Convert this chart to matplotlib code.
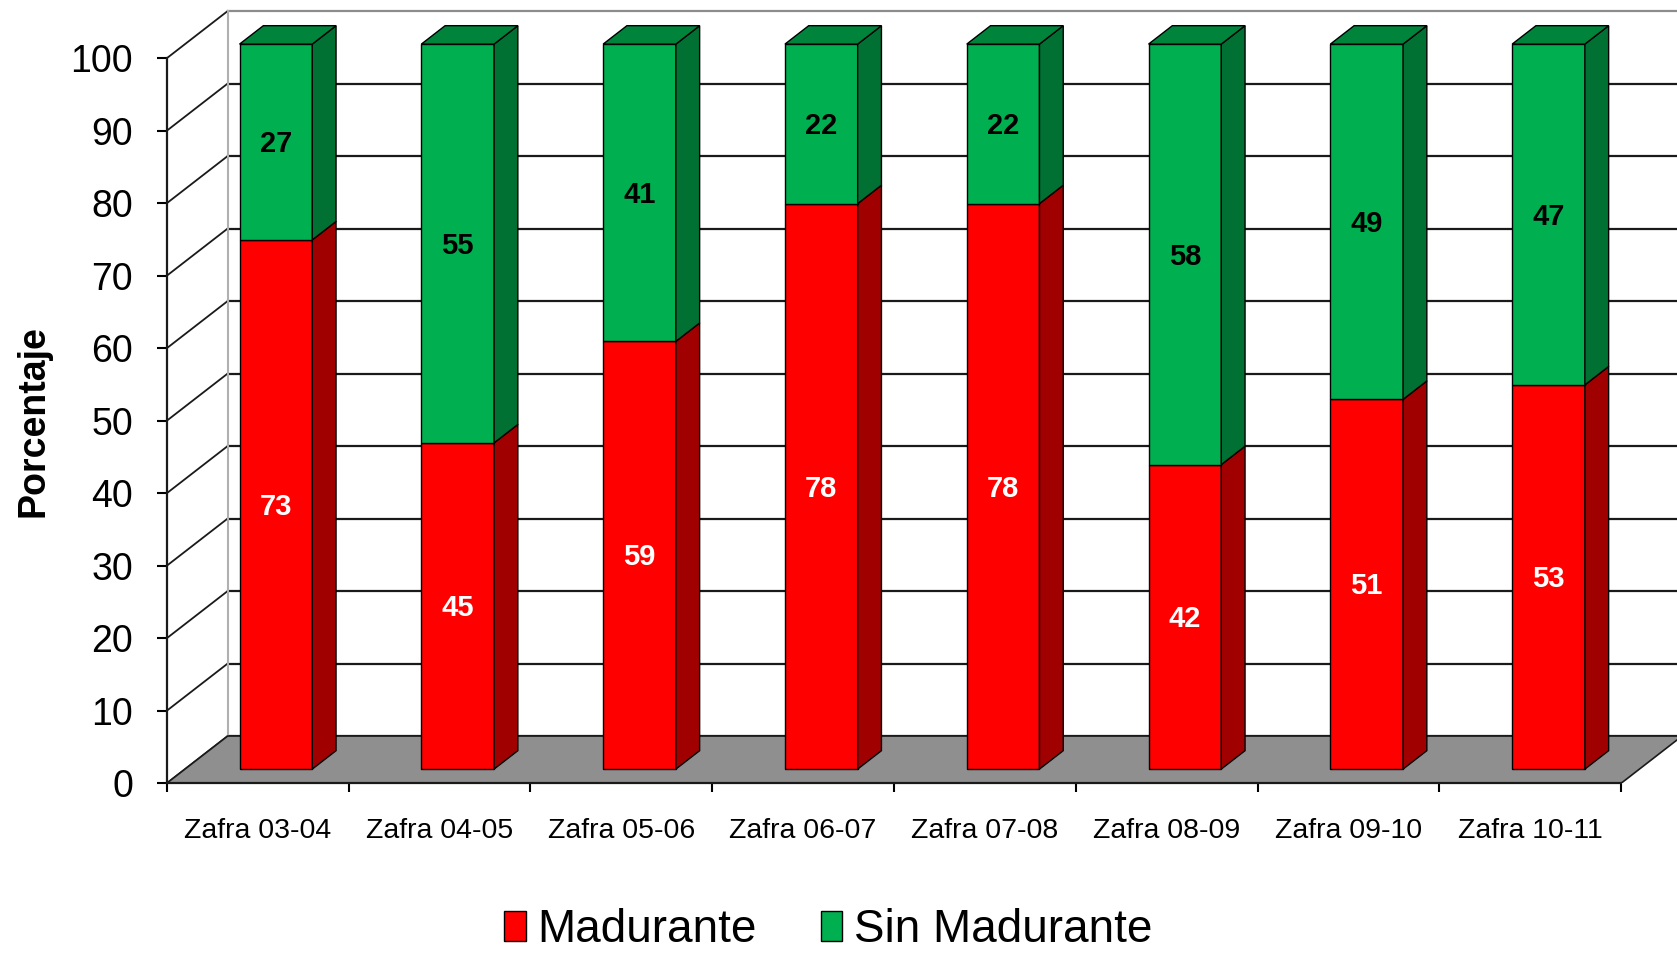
import numpy as np
import matplotlib
matplotlib.use("Agg")
import matplotlib.pyplot as plt
from matplotlib.patches import Patch

plt.rcParams['font.family'] = ['Liberation Sans', 'DejaVu Sans']

# data
zafras = ["Zafra 03-04", "Zafra 04-05", "Zafra 05-06", "Zafra 06-07",
          "Zafra 07-08", "Zafra 08-09", "Zafra 09-10", "Zafra 10-11"]
madurante = [73, 45, 59, 78, 78, 42, 51, 53]
sin_madurante = [27, 55, 41, 22, 22, 58, 49, 47]
y_ticks = list(range(0, 101, 10))

# colours (front, side, top)
RED = ("#FF0000", "#A00000", "#C00000")
GREEN = ("#00B050", "#007033", "#00843C")

# fake 3d depth, in data units
DEPTH_X = 0.3355
DEPTH_Y = 6.52
BAR_Z0, BAR_Z1 = 0.30, 0.69
BAR_W = 0.40

fx0, fy0 = BAR_Z0 * DEPTH_X, BAR_Z0 * DEPTH_Y
sx, sy = (BAR_Z1 - BAR_Z0) * DEPTH_X, (BAR_Z1 - BAR_Z0) * DEPTH_Y

fig = plt.figure(figsize=(16.77, 9.56), dpi=100)
ax = fig.add_axes([166.7 / 1677, 172.7 / 956, 1 - 166.7 / 1677, 783.3 / 956])
n = len(zafras)
ax.set_xlim(0, 1510.3 / 181.8)
ax.set_ylim(0, 783.3 / 7.25)

# back wall grid + left wall diagonals
for v in y_ticks:
    col = "#8C8C8C" if v == 100 else "#1A1A1A"
    ax.plot([DEPTH_X, n + 2 * DEPTH_X], [v + DEPTH_Y, v + DEPTH_Y], color=col, lw=1.6, zorder=1)
    ax.plot([0, DEPTH_X], [v, v + DEPTH_Y], color="#1A1A1A", lw=1.3, zorder=1)
ax.plot([DEPTH_X, DEPTH_X], [DEPTH_Y, 100 + DEPTH_Y], color="#B0B0B0", lw=1.5, zorder=1)

# floor
ax.fill([0, n, n + DEPTH_X, DEPTH_X], [0, 0, DEPTH_Y, DEPTH_Y],
        facecolor="#8F8F8F", edgecolor="#1A1A1A", lw=1.2, zorder=2)

x = np.arange(n) + 0.5
series = [(madurante, RED, "white"), (sin_madurante, GREEN, "black")]
bottoms = np.zeros(n)
for k, (vals, cols, txt_col) in enumerate(series):
    vals = np.array(vals, dtype=float)
    ax.bar(x + fx0, vals, bottom=bottoms + fy0, width=BAR_W,
           color=cols[0], edgecolor="black", lw=1.0, zorder=3)
    for i in range(n):
        b = bottoms[i] + fy0
        t = b + vals[i]
        r = x[i] + fx0 + BAR_W / 2
        l = x[i] + fx0 - BAR_W / 2
        ax.fill([r, r + sx, r + sx, r], [b, b + sy, t + sy, t],
                facecolor=cols[1], edgecolor="black", lw=1.0, zorder=3)
        if k == len(series) - 1:
            ax.fill([l, r, r + sx, l + sx], [t, t, t + sy, t + sy],
                    facecolor=cols[2], edgecolor="black", lw=1.0, zorder=3)
        ax.text(x[i] + fx0, b + vals[i] / 2 - 0.3, f"{vals[i]:.0f}", color=txt_col,
                fontsize=21, fontweight="bold", ha="center", va="center", zorder=4)
    bottoms = bottoms + vals

# axes styling
for s in ["top", "right"]:
    ax.spines[s].set_visible(False)
ax.spines["left"].set_bounds(0, 100)
ax.spines["bottom"].set_bounds(0, n)
ax.spines["left"].set_linewidth(1.6)
ax.spines["bottom"].set_linewidth(1.6)
ax.spines["left"].set_color("#1A1A1A")
ax.spines["bottom"].set_color("#1A1A1A")

ax.set_yticks(y_ticks)
ax.tick_params(axis="y", direction="out", length=7.2, width=1.5, pad=17, labelsize=27)
ax.set_xticks(x)
ax.set_xticklabels(zafras)
ax.set_xticks(np.arange(n + 1), minor=True)
ax.tick_params(axis="x", which="major", length=0, pad=25, labelsize=20.5)
ax.tick_params(axis="x", which="minor", direction="out", length=6.5, width=1.5)

ax.set_ylabel("Porcentaje", fontsize=27, fontweight="bold", va="center")
ax.yaxis.set_label_coords(-0.0885, 50 / (783.3 / 7.25))

handles = [Patch(facecolor=RED[0], edgecolor="black", label="Madurante"),
           Patch(facecolor=GREEN[0], edgecolor="black", label="Sin Madurante")]
fig.legend(handles=handles, loc="center", bbox_to_anchor=(0.494, 0.027), ncol=2,
           frameon=False, fontsize=33, handlelength=0.46, handleheight=0.64,
           handletextpad=0.26, columnspacing=1.4, borderpad=0.1)

fig.savefig("out.png", dpi=100)
